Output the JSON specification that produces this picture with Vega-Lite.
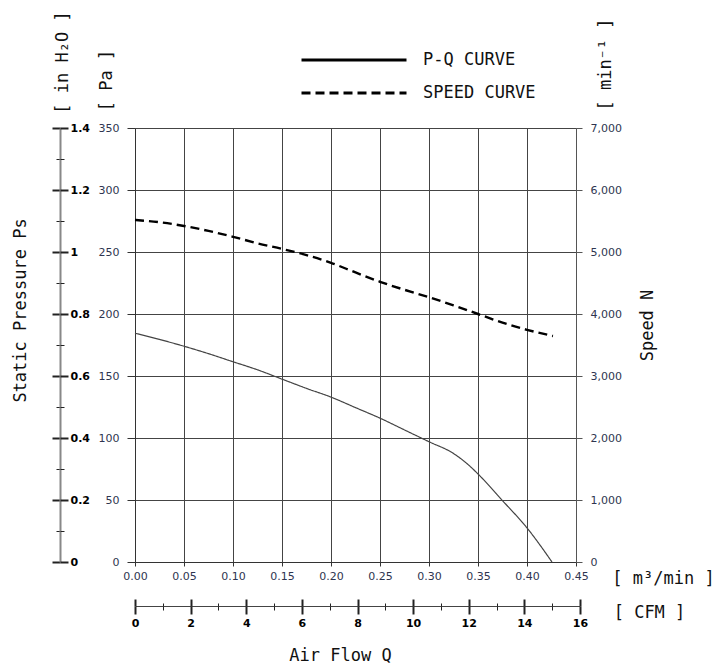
{
  "$schema": "https://vega.github.io/schema/vega-lite/v6.json",
  "width": 441,
  "height": 434,
  "autosize": {"type": "none"},
  "padding": {"left": 135, "top": 128, "right": 140, "bottom": 103},
  "background": "white",
  "config": {
    "view": {"stroke": null},
    "axis": {"labelFont": "DejaVu Sans", "labelFontSize": 11, "labelFlush": false, "labelOverlap": false, "titleFont": "DejaVu Sans Mono", "titleFontSize": 17, "titleFontWeight": "normal", "titleColor": "#111"}
  },
  "datasets": {
    "pq": [
      {"q": 0.0, "cfm": 0.0, "pa": 184.5},
      {"q": 0.025, "cfm": 0.88, "pa": 179.5},
      {"q": 0.05, "cfm": 1.77, "pa": 174},
      {"q": 0.075, "cfm": 2.65, "pa": 168},
      {"q": 0.1, "cfm": 3.53, "pa": 161.5},
      {"q": 0.125, "cfm": 4.41, "pa": 155},
      {"q": 0.15, "cfm": 5.3, "pa": 147.5},
      {"q": 0.175, "cfm": 6.18, "pa": 140},
      {"q": 0.2, "cfm": 7.06, "pa": 133},
      {"q": 0.225, "cfm": 7.95, "pa": 124.5},
      {"q": 0.25, "cfm": 8.83, "pa": 116},
      {"q": 0.275, "cfm": 9.71, "pa": 106.5},
      {"q": 0.3, "cfm": 10.59, "pa": 97},
      {"q": 0.325, "cfm": 11.48, "pa": 87.5},
      {"q": 0.34, "cfm": 12.01, "pa": 78.5},
      {"q": 0.35, "cfm": 12.36, "pa": 71},
      {"q": 0.375, "cfm": 13.24, "pa": 49.5},
      {"q": 0.4, "cfm": 14.13, "pa": 27.5},
      {"q": 0.4255, "cfm": 15.03, "pa": 0}
    ],
    "speed": [
      {"q": 0.0, "rpm": 5516},
      {"q": 0.025, "rpm": 5480},
      {"q": 0.05, "rpm": 5420},
      {"q": 0.075, "rpm": 5340},
      {"q": 0.1, "rpm": 5245},
      {"q": 0.125, "rpm": 5140},
      {"q": 0.15, "rpm": 5050},
      {"q": 0.175, "rpm": 4950},
      {"q": 0.2, "rpm": 4825},
      {"q": 0.225, "rpm": 4670},
      {"q": 0.25, "rpm": 4520},
      {"q": 0.275, "rpm": 4390},
      {"q": 0.3, "rpm": 4270},
      {"q": 0.325, "rpm": 4140},
      {"q": 0.35, "rpm": 4000},
      {"q": 0.375, "rpm": 3860},
      {"q": 0.4, "rpm": 3745},
      {"q": 0.4265, "rpm": 3645}
    ]
  },
  "resolve": {
    "scale": {"x": "independent", "y": "independent"},
    "axis": {"x": "independent", "y": "independent"}
  },
  "layer": [
    {
      "data": {"name": "pq"},
      "mark": {"type": "line", "color": "#444", "strokeWidth": 1.2, "interpolate": "monotone"},
      "encoding": {
        "x": {"field": "q", "type": "quantitative",
          "scale": {"domain": [0, 0.45], "nice": false},
          "axis": {"orient": "bottom", "values": [0, 0.05, 0.1, 0.15, 0.2, 0.25, 0.3, 0.35, 0.4, 0.45], "format": ".2f",
            "grid": true, "gridColor": "#444", "gridWidth": 1, "gridOpacity": 1,
            "domainColor": "#333", "tickColor": "#333", "tickSize": 4, "labelPadding": 4, "labelColor": "#2e3550",
            "title": "[ m³/min ]", "titleX": 528, "titleY": 16, "titleAlign": "center", "titleBaseline": "middle"}},
        "y": {"field": "pa", "type": "quantitative",
          "scale": {"domain": [0, 350], "nice": false},
          "axis": {"orient": "left", "values": [0, 50, 100, 150, 200, 250, 300, 350],
            "grid": true, "gridColor": "#444", "gridWidth": 1, "gridOpacity": 1,
            "domainColor": "#333", "tickColor": "#333", "tickSize": 8, "labelPadding": 8, "labelColor": "#2e3550",
            "title": "[ Pa ]", "titleX": -29, "titleY": -48, "titleAngle": 270, "titleAlign": "center", "titleBaseline": "middle"}},
        "strokeDash": {"datum": "P-Q CURVE", "type": "nominal",
          "scale": {"domain": ["P-Q CURVE", "SPEED CURVE"], "range": [[1, 0], [9, 5]]},
          "legend": {"orient": "none", "legendX": 207, "legendY": -80, "title": null,
            "symbolType": "M-5,0H5", "symbolSize": 441, "symbolStrokeWidth": 3, "symbolStrokeColor": "black",
            "labelFont": "DejaVu Sans Mono", "labelFontSize": 17, "labelColor": "#111", "labelOffset": 57, "rowPadding": 13}}
      }
    },
    {
      "data": {"name": "speed"},
      "mark": {"type": "line", "color": "#000", "strokeWidth": 2.4, "interpolate": "monotone"},
      "encoding": {
        "x": {"field": "q", "type": "quantitative", "scale": {"domain": [0, 0.45], "nice": false}, "axis": null},
        "y": {"field": "rpm", "type": "quantitative",
          "scale": {"domain": [0, 7000], "nice": false},
          "axis": {"orient": "right", "values": [0, 1000, 2000, 3000, 4000, 5000, 6000, 7000],
            "labelExpr": "format(datum.value, ',')",
            "grid": false, "domainColor": "#555", "tickColor": "#555", "tickSize": 6, "labelPadding": 8, "labelColor": "#2e3550",
            "title": "Speed N", "titleX": 71, "titleY": 197, "titleAngle": 270, "titleAlign": "center", "titleBaseline": "middle"}},
        "strokeDash": {"datum": "SPEED CURVE", "type": "nominal"}
      }
    },
    {
      "data": {"name": "pq"},
      "mark": {"type": "point", "opacity": 0},
      "encoding": {
        "x": {"field": "cfm", "type": "quantitative",
          "scale": {"domain": [0, 16], "range": [0, 445], "nice": false},
          "axis": {"orient": "bottom", "offset": 44, "values": [0,1,2,3,4,5,6,7,8,9,10,11,12,13,14,15,16],
            "grid": false, "domainColor": "#444", "domainWidth": 1.2, "tickColor": "#222",
            "tickSize": {"expr": "datum.value % 2 == 0 ? 8 : 4"}, "tickWidth": {"expr": "datum.value % 2 == 0 ? 2 : 1"},
            "labelExpr": "datum.value % 2 == 0 ? datum.label : ''", "labelPadding": 3, "labelColor": "#000", "labelFontWeight": "bold",
            "title": "[ CFM ]", "titleX": 514, "titleY": 6, "titleAlign": "center", "titleBaseline": "middle"}},
        "y": {"field": "pa", "type": "quantitative",
          "scale": {"domain": [0, 350], "nice": false},
          "axis": {"orient": "left", "offset": 75, "values": [0,25,50,75,100,125,150,175,200,225,250,275,300,325,350],
            "grid": false, "domainColor": "#888", "domainWidth": 2, "tickColor": "#222",
            "tickSize": {"expr": "datum.value % 50 == 0 ? 8 : 4"}, "tickWidth": {"expr": "datum.value % 50 == 0 ? 2 : 1"},
            "labels": false,
            "title": "Static Pressure Ps", "titleX": -40, "titleY": 182, "titleAngle": 270, "titleAlign": "center", "titleBaseline": "middle"}}
      }
    },
    {
      "data": {"name": "pq"},
      "mark": {"type": "point", "opacity": 0},
      "encoding": {
        "x": {"field": "cfm", "type": "quantitative",
          "scale": {"domain": [0, 16], "range": [0, 445], "nice": false},
          "axis": {"orient": "top", "offset": -478, "values": [0,1,2,3,4,5,6,7,8,9,10,11,12,13,14,15,16],
            "grid": false, "domain": false, "tickColor": "#222",
            "tickSize": {"expr": "datum.value % 2 == 0 ? 7 : 3"}, "tickWidth": {"expr": "datum.value % 2 == 0 ? 2 : 1"},
            "labels": false, "title": null}},
        "y": {"field": "pa", "type": "quantitative",
          "scale": {"domain": [0, 350], "nice": false},
          "axis": {"orient": "right", "offset": -516, "values": [0,25,50,75,100,125,150,175,200,225,250,275,300,325,350],
            "grid": false, "domain": false, "tickColor": "#222",
            "tickSize": {"expr": "datum.value % 50 == 0 ? 8 : 4"}, "tickWidth": {"expr": "datum.value % 50 == 0 ? 2 : 1"},
            "labelExpr": "datum.value % 50 == 0 ? toString(round(datum.value / 25) / 10) : ''",
            "labelPadding": 2, "labelColor": "#000", "labelFontWeight": "bold",
            "title": "[ in H₂O ]", "titleX": 2, "titleY": -66, "titleAngle": 270, "titleAlign": "center", "titleBaseline": "middle"}}
      }
    },
    {
      "data": {"name": "speed"},
      "mark": {"type": "point", "opacity": 0},
      "encoding": {
        "x": {"field": "q", "type": "quantitative", "scale": {"domain": [0, 0.45], "nice": false},
          "axis": {"orient": "bottom", "domain": false, "ticks": false, "labels": false, "grid": false,
            "title": "Air Flow Q", "titleX": 205, "titleY": 93, "titleAlign": "center", "titleBaseline": "middle"}},
        "y": {"field": "rpm", "type": "quantitative", "scale": {"domain": [0, 7000], "nice": false},
          "axis": {"orient": "right", "domain": false, "ticks": false, "labels": false, "grid": false,
            "title": "[ min⁻¹ ]", "titleX": 29, "titleY": -64, "titleAngle": 270, "titleAlign": "center", "titleBaseline": "middle"}}
      }
    }
  ]
}
